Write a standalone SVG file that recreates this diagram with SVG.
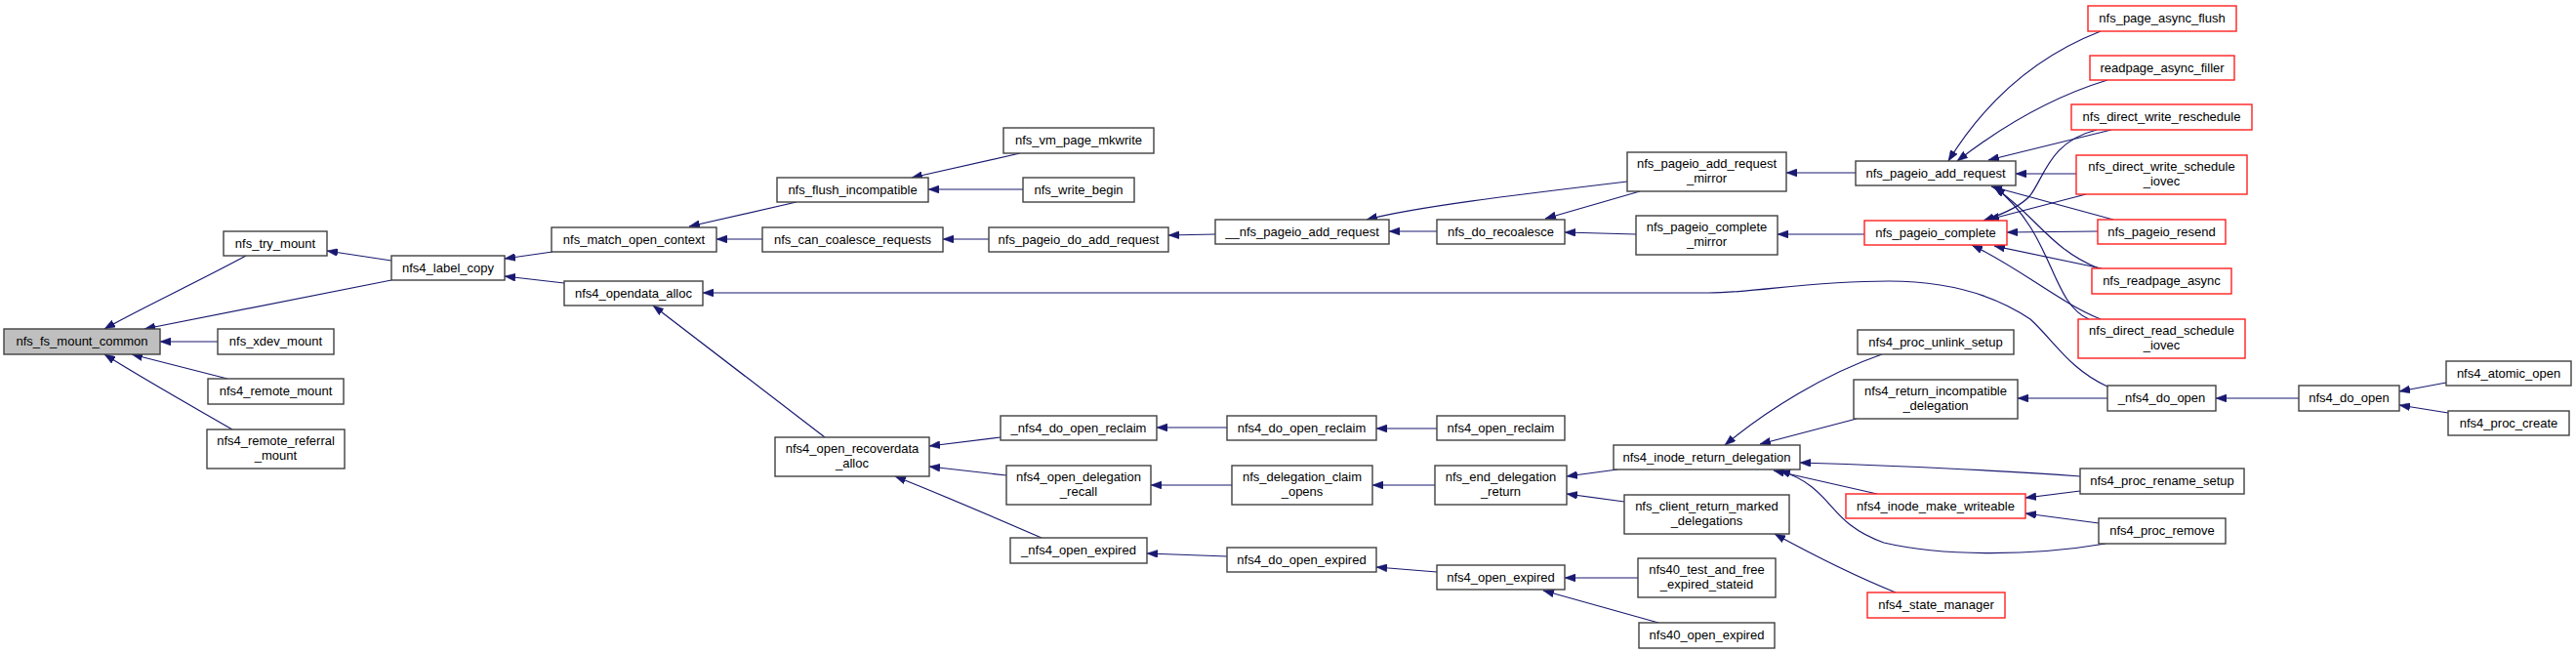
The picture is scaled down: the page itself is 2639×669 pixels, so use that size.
<svg xmlns="http://www.w3.org/2000/svg" width="2639" height="669" viewBox="0 0 2639 669">
<style>
.n rect{fill:#fff;stroke:#404040;stroke-width:1.4}
.n.r rect{stroke:#ff2020}
.n.m rect{fill:#bfbfbf}
.n text{font-family:"Liberation Sans",Arial,sans-serif;font-size:13px;fill:#000;text-anchor:middle}
#edges path{fill:none;stroke:#191970;stroke-width:1.2;marker-end:url(#ah)}
</style>
<defs>
<marker id="ah" markerUnits="userSpaceOnUse" markerWidth="12" markerHeight="8" refX="11" refY="4" orient="auto">
<path d="M0,0 L11,4 L0,8 z" fill="#191970" stroke="#191970" stroke-width="0.5"/>
</marker>
</defs>
<rect width="2639" height="669" fill="#fff"/>
<g id="edges">
<path d="M252,262 C200,290 140,318 107,337"/>
<path d="M401,287 L148,337"/>
<path d="M223,350 L164,350"/>
<path d="M233,388 L135,363"/>
<path d="M238,440 C200,418 150,390 107,363"/>
<path d="M401,267 L335,257"/>
<path d="M566,258 L517,265"/>
<path d="M578,290 L517,283"/>
<path d="M816,207 L706,232"/>
<path d="M781,245 L734,245"/>
<path d="M1045,157 L934,182"/>
<path d="M1048,194 L951,194"/>
<path d="M1013,245 L966,245"/>
<path d="M1245,240 L1197,241"/>
<path d="M1667,186 C1550,200 1450,212 1400,225"/>
<path d="M1472,237 L1423,237"/>
<path d="M1680,196 L1583,224"/>
<path d="M1676,240 L1603,238"/>
<path d="M1901,177 L1830,177"/>
<path d="M1910,240 L1821,240"/>
<path d="M2152,32 C2080,60 2030,110 1996,165"/>
<path d="M2159,82 C2100,100 2050,130 2005,165"/>
<path d="M2163,133 L2037,164"/>
<path d="M2148,133 C2100,145 2095,180 2080,200 C2070,212 2050,220 2032,226"/>
<path d="M2127,178 L2065,178"/>
<path d="M2137,199 L2037,225"/>
<path d="M2165,225 L2040,191"/>
<path d="M2149,237 L2056,238"/>
<path d="M2153,275 L2043,252"/>
<path d="M2150,275 C2100,255 2085,220 2043,192"/>
<path d="M2152,327 C2110,310 2070,275 2020,251"/>
<path d="M2140,327 C2100,310 2105,240 2043,191"/>
<path d="M2159,396 C2120,378 2105,350 2080,327 C2040,300 1990,288 1935,288 C1850,288 1800,300 1750,300 L720,300"/>
<path d="M845,448 L669,313"/>
<path d="M1025,448 L952,457"/>
<path d="M1031,487 L952,478"/>
<path d="M1067,551 C1030,535 960,505 917,488"/>
<path d="M1257,438 L1185,438"/>
<path d="M1262,497 L1179,497"/>
<path d="M1257,570 L1175,567"/>
<path d="M1472,439 L1410,439"/>
<path d="M1470,497 L1406,497"/>
<path d="M1472,586 L1410,581"/>
<path d="M1657,481 L1605,488"/>
<path d="M1664,514 L1605,506"/>
<path d="M1679,592 L1603,592"/>
<path d="M1699,638 L1581,605"/>
<path d="M1928,363 C1870,383 1810,420 1767,456"/>
<path d="M1902,429 L1803,455"/>
<path d="M2131,488 C2050,482 1920,476 1844,474"/>
<path d="M1923,506 L1817,482"/>
<path d="M2157,557 C2080,570 1990,570 1930,556 C1870,535 1880,500 1823,482"/>
<path d="M2131,503 L2075,510"/>
<path d="M2150,536 L2075,526"/>
<path d="M1942,607 C1900,590 1860,570 1818,547"/>
<path d="M2159,408 L2067,408"/>
<path d="M2355,408 L2270,408"/>
<path d="M2506,392 L2458,401"/>
<path d="M2508,423 L2458,415"/>
</g>
<g id="n1" class="n m"><rect x="4" y="337" width="160" height="26"/><text x="84" y="354">nfs_fs_mount_common</text></g>
<g id="n2" class="n"><rect x="229" y="237" width="106" height="25"/><text x="282" y="254">nfs_try_mount</text></g>
<g id="n3" class="n"><rect x="223" y="337" width="119" height="26"/><text x="282.5" y="354">nfs_xdev_mount</text></g>
<g id="n4" class="n"><rect x="213" y="388" width="139" height="26"/><text x="282.5" y="405">nfs4_remote_mount</text></g>
<g id="n5" class="n"><rect x="212" y="440" width="141" height="40"/><text x="282.5" y="456">nfs4_remote_referral</text><text x="282.5" y="471">_mount</text></g>
<g id="n6" class="n"><rect x="401" y="262" width="116" height="25"/><text x="459" y="279">nfs4_label_copy</text></g>
<g id="n7" class="n"><rect x="565" y="233" width="169" height="25"/><text x="649.5" y="250">nfs_match_open_context</text></g>
<g id="n8" class="n"><rect x="578" y="288" width="142" height="25"/><text x="649" y="305">nfs4_opendata_alloc</text></g>
<g id="n9" class="n"><rect x="796" y="182" width="155" height="25"/><text x="873.5" y="199">nfs_flush_incompatible</text></g>
<g id="n10" class="n"><rect x="781" y="233" width="185" height="25"/><text x="873.5" y="250">nfs_can_coalesce_requests</text></g>
<g id="n11" class="n"><rect x="1028" y="131" width="154" height="26"/><text x="1105" y="148">nfs_vm_page_mkwrite</text></g>
<g id="n12" class="n"><rect x="1048" y="182" width="114" height="25"/><text x="1105" y="199">nfs_write_begin</text></g>
<g id="n13" class="n"><rect x="1013" y="233" width="184" height="25"/><text x="1105" y="250">nfs_pageio_do_add_request</text></g>
<g id="n14" class="n"><rect x="1245" y="225" width="178" height="25"/><text x="1334" y="242">__nfs_pageio_add_request</text></g>
<g id="n15" class="n"><rect x="1472" y="225" width="131" height="25"/><text x="1537.5" y="242">nfs_do_recoalesce</text></g>
<g id="n16" class="n"><rect x="1667" y="156" width="163" height="40"/><text x="1748.5" y="172">nfs_pageio_add_request</text><text x="1748.5" y="187">_mirror</text></g>
<g id="n17" class="n"><rect x="1676" y="221" width="145" height="40"/><text x="1748.5" y="237">nfs_pageio_complete</text><text x="1748.5" y="252">_mirror</text></g>
<g id="n18" class="n"><rect x="1901" y="165" width="164" height="25"/><text x="1983" y="182">nfs_pageio_add_request</text></g>
<g id="n19" class="n r"><rect x="1910" y="226" width="146" height="25"/><text x="1983" y="243">nfs_pageio_complete</text></g>
<g id="n20" class="n r"><rect x="2139" y="6" width="152" height="26"/><text x="2215" y="23">nfs_page_async_flush</text></g>
<g id="n21" class="n r"><rect x="2141" y="57" width="148" height="25"/><text x="2215" y="74">readpage_async_filler</text></g>
<g id="n22" class="n r"><rect x="2122" y="107" width="185" height="26"/><text x="2214.5" y="124">nfs_direct_write_reschedule</text></g>
<g id="n23" class="n r"><rect x="2127" y="159" width="175" height="40"/><text x="2214.5" y="175">nfs_direct_write_schedule</text><text x="2214.5" y="190">_iovec</text></g>
<g id="n24" class="n r"><rect x="2149" y="225" width="131" height="25"/><text x="2214.5" y="242">nfs_pageio_resend</text></g>
<g id="n25" class="n r"><rect x="2143" y="275" width="143" height="26"/><text x="2214.5" y="292">nfs_readpage_async</text></g>
<g id="n26" class="n r"><rect x="2129" y="327" width="171" height="40"/><text x="2214.5" y="343">nfs_direct_read_schedule</text><text x="2214.5" y="358">_iovec</text></g>
<g id="n27" class="n"><rect x="794" y="448" width="158" height="40"/><text x="873" y="464">nfs4_open_recoverdata</text><text x="873" y="479">_alloc</text></g>
<g id="n28" class="n"><rect x="1025" y="426" width="160" height="25"/><text x="1105" y="443">_nfs4_do_open_reclaim</text></g>
<g id="n29" class="n"><rect x="1031" y="477" width="148" height="40"/><text x="1105" y="493">nfs4_open_delegation</text><text x="1105" y="508">_recall</text></g>
<g id="n30" class="n"><rect x="1035" y="551" width="140" height="26"/><text x="1105" y="568">_nfs4_open_expired</text></g>
<g id="n31" class="n"><rect x="1257" y="426" width="153" height="25"/><text x="1333.5" y="443">nfs4_do_open_reclaim</text></g>
<g id="n32" class="n"><rect x="1262" y="477" width="144" height="40"/><text x="1334" y="493">nfs_delegation_claim</text><text x="1334" y="508">_opens</text></g>
<g id="n33" class="n"><rect x="1257" y="561" width="153" height="25"/><text x="1333.5" y="578">nfs4_do_open_expired</text></g>
<g id="n34" class="n"><rect x="1472" y="426" width="131" height="25"/><text x="1537.5" y="443">nfs4_open_reclaim</text></g>
<g id="n35" class="n"><rect x="1470" y="477" width="135" height="40"/><text x="1537.5" y="493">nfs_end_delegation</text><text x="1537.5" y="508">_return</text></g>
<g id="n36" class="n"><rect x="1472" y="579" width="131" height="25"/><text x="1537.5" y="596">nfs4_open_expired</text></g>
<g id="n37" class="n"><rect x="1653" y="456" width="191" height="25"/><text x="1748.5" y="473">nfs4_inode_return_delegation</text></g>
<g id="n38" class="n"><rect x="1664" y="507" width="169" height="40"/><text x="1748.5" y="523">nfs_client_return_marked</text><text x="1748.5" y="538">_delegations</text></g>
<g id="n39" class="n"><rect x="1678" y="572" width="141" height="40"/><text x="1748.5" y="588">nfs40_test_and_free</text><text x="1748.5" y="603">_expired_stateid</text></g>
<g id="n40" class="n"><rect x="1679" y="638" width="139" height="26"/><text x="1748.5" y="655">nfs40_open_expired</text></g>
<g id="n41" class="n"><rect x="1903" y="338" width="160" height="25"/><text x="1983" y="355">nfs4_proc_unlink_setup</text></g>
<g id="n42" class="n"><rect x="1899" y="389" width="168" height="40"/><text x="1983" y="405">nfs4_return_incompatible</text><text x="1983" y="420">_delegation</text></g>
<g id="n43" class="n r"><rect x="1891" y="506" width="184" height="25"/><text x="1983" y="523">nfs4_inode_make_writeable</text></g>
<g id="n44" class="n r"><rect x="1913" y="607" width="141" height="26"/><text x="1983.5" y="624">nfs4_state_manager</text></g>
<g id="n45" class="n"><rect x="2159" y="395" width="111" height="26"/><text x="2214.5" y="412">_nfs4_do_open</text></g>
<g id="n46" class="n"><rect x="2355" y="395" width="103" height="26"/><text x="2406.5" y="412">nfs4_do_open</text></g>
<g id="n47" class="n"><rect x="2506" y="370" width="128" height="25"/><text x="2570" y="387">nfs4_atomic_open</text></g>
<g id="n48" class="n"><rect x="2508" y="421" width="124" height="25"/><text x="2570" y="438">nfs4_proc_create</text></g>
<g id="n49" class="n"><rect x="2131" y="480" width="168" height="26"/><text x="2215" y="497">nfs4_proc_rename_setup</text></g>
<g id="n50" class="n"><rect x="2150" y="531" width="130" height="26"/><text x="2215" y="548">nfs4_proc_remove</text></g>
</svg>
